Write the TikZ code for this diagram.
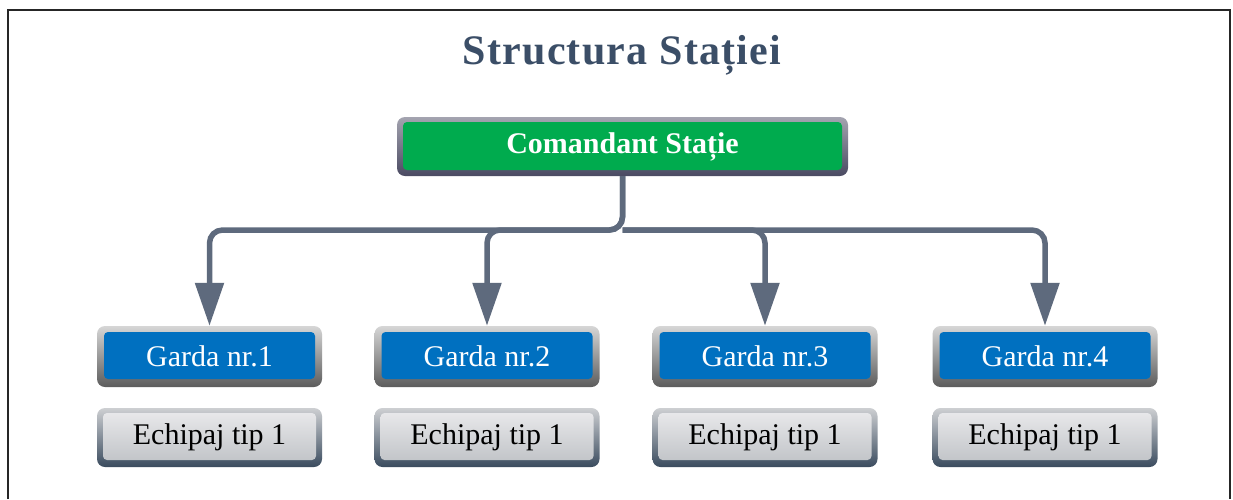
\documentclass[tikz,border=0pt]{standalone}
\usepackage{fontspec}
\setmainfont{Liberation Serif}
\usetikzlibrary{arrows.meta}

\definecolor{titleblue}{HTML}{3B4E67}
\definecolor{linegray}{HTML}{5E6A7D}
\definecolor{cmdgreen}{HTML}{00AB4E}
\definecolor{cmdlight}{HTML}{A4A4B0}
\definecolor{cmddark}{HTML}{4A4A62}
\definecolor{gardablue}{HTML}{0070C0}
\definecolor{gardalight}{HTML}{D6D6D6}
\definecolor{gardadark}{HTML}{5C5C5C}
\definecolor{echlight}{HTML}{CDCFD2}
\definecolor{echdark}{HTML}{3A4B5E}
\definecolor{echtop}{HTML}{EBEBED}
\definecolor{echbot}{HTML}{BDC0C4}

\tikzset{
  bevelbox/.style={rounded corners=8pt, inner sep=0pt, minimum width=225pt,
    font=\fontsize{30}{30}\selectfont},
  cmdbox/.style={bevelbox, minimum width=451pt, minimum height=59pt,
    top color=cmdlight, bottom color=cmddark, text=white,
    font=\fontsize{30}{30}\selectfont\bfseries,
    path picture={\fill[cmdgreen, rounded corners=4pt]
      ([shift={(6pt,6pt)}]path picture bounding box.south west) rectangle
      ([shift={(-6pt,-5pt)}]path picture bounding box.north east);}},
  gardabox/.style={bevelbox, minimum height=61pt,
    top color=gardalight, bottom color=gardadark, text=white,
    path picture={\fill[gardablue, rounded corners=4pt]
      ([shift={(7pt,8pt)}]path picture bounding box.south west) rectangle
      ([shift={(-7pt,-6pt)}]path picture bounding box.north east);}},
  echbox/.style={bevelbox, minimum height=59pt,
    top color=echlight, bottom color=echdark, text=black,
    path picture={\shade[top color=echtop, bottom color=echbot, rounded corners=4pt]
      ([shift={(6pt,7pt)}]path picture bounding box.south west) rectangle
      ([shift={(-6pt,-5pt)}]path picture bounding box.north east);}},
  conn/.style={draw=linegray, line width=5.5pt, rounded corners=13pt,
    -{Triangle[width=28pt,length=43pt]}}
}

\begin{document}
\begin{tikzpicture}[x=1pt,y=1pt]
  \useasboundingbox (0,0) rectangle (1233,-499);
  \fill[white] (0,0) rectangle (1233,-499);

  % page frame
  \draw[line width=2pt, black!85] (8,-499) -- (8,-9.5) -- (1229.5,-9.5) -- (1229.5,-499);

  % title
  \node[anchor=base, text=titleblue,
        font=\fontsize{42}{42}\selectfont\bfseries\addfontfeature{LetterSpace=3}]
        (title) at (622,-64) {Structura Stației};

  % commander
  \node[cmdbox] (cmd) at (622.5,-146.5) {Comandant Stație};

  % guards
  \node[gardabox] (g1) at (209.5,-356.5) {Garda nr.1};
  \node[gardabox] (g2) at (487,-356.5) {Garda nr.2};
  \node[gardabox] (g3) at (765,-356.5) {Garda nr.3};
  \node[gardabox] (g4) at (1045,-356.5) {Garda nr.4};

  % crews
  \node[echbox] (e1) at (209.5,-437.5) {Echipaj tip 1};
  \node[echbox] (e2) at (487,-437.5) {Echipaj tip 1};
  \node[echbox] (e3) at (765,-437.5) {Echipaj tip 1};
  \node[echbox] (e4) at (1045,-437.5) {Echipaj tip 1};

  % connectors
  \coordinate (j) at (622.5,-230);
  \draw[conn] (cmd.south) |- (g1.north |- j) -- (g1.north);
  \draw[conn] (cmd.south) |- (g2.north |- j) -- (g2.north);
  \draw[conn] (j) -- (g3.north |- j) -- (g3.north);
  \draw[conn] (j) -- (g4.north |- j) -- (g4.north);
\end{tikzpicture}
\end{document}
